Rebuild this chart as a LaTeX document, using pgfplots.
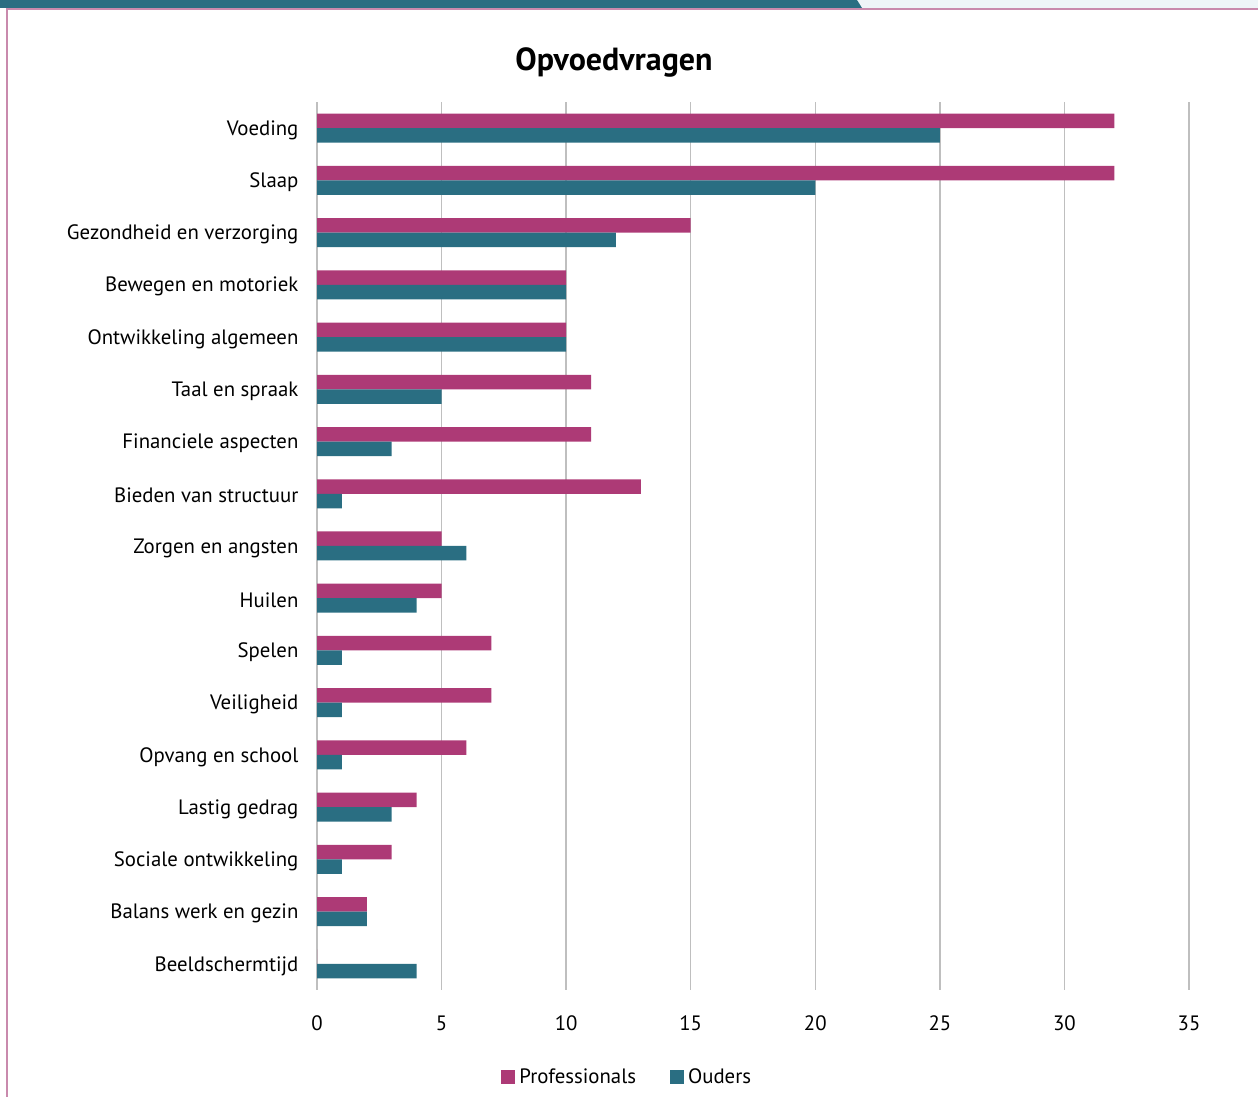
\documentclass[border=0pt]{standalone}
\usepackage{pgfplots}
\pgfplotsset{compat=1.18}
\usepackage{fontspec}
\setmainfont{PT Sans}
\definecolor{prof}{HTML}{AD3A76}
\definecolor{oud}{HTML}{2A6E82}
\definecolor{gridc}{HTML}{BFBFBF}
\definecolor{framec}{HTML}{C98AAD}
\definecolor{band}{HTML}{EEF5F8}

\begin{document}
\begin{tikzpicture}[x=0.5pt,y=0.5pt]
% page frame, 1 unit = 1 px of the reference
\path[use as bounding box] (0,0) rectangle (1258,1097);
\fill[band] (858,1089) rectangle (1258,1097);
\fill[oud] (0,1089) -- (862,1089) -- (857,1097) -- (0,1097) -- cycle;
\draw[framec, line width=1pt] (1258,1088) -- (7,1088) -- (7,0);
\node[font=\bfseries\fontsize{16}{19}\selectfont] at (614,1035) {Opvoedvragen};

\begin{axis}[
  at={(158.5pt,53.5pt)}, anchor=south west,
  scale only axis,
  width=436pt, height=444pt,
  xbar,
  bar width=7.25pt,
  xmin=0, xmax=35,
  ymin=-0.5, ymax=16.5,
  xtick={0,5,...,35},
  ytick={0,...,16},
  yticklabels={Beeldschermtijd, Balans werk en gezin, Sociale ontwikkeling,
    Lastig gedrag, Opvang en school, Veiligheid, Spelen, Huilen,
    Zorgen en angsten, Bieden van structuur, Financiele aspecten,
    Taal en spraak, Ontwikkeling algemeen, Bewegen en motoriek,
    Gezondheid en verzorging, Slaap, Voeding},
  /pgf/number format/assume math mode=true,
  axis line style={draw=none},
  tick style={draw=none},
  xmajorgrids,
  major grid style={gridc, line width=0.75pt},
  ticklabel style={font=\fontsize{10.4}{12.5}\selectfont},
  xticklabel style={yshift=-9.5pt},
  yticklabel style={xshift=-1.5pt, yshift=-1pt},
  legend columns=2,
  legend style={draw=none, font=\fontsize{10.4}{12.5}\selectfont,
    at={(0.357,-0.0985)}, anchor=center,
    /tikz/every even column/.append style={column sep=15pt}},
  legend image code/.code={\fill[#1] (0pt,-3.5pt) rectangle (7pt,3.5pt);},
]
\addplot[fill=prof, draw=none, bar shift=3.625pt] coordinates {
  (32,16) (32,15) (15,14) (10,13) (10,12) (11,11) (11,10) (13,9) (5,8)
  (5,7) (7,6) (7,5) (6,4) (4,3) (3,2) (2,1) (0,0)};
\addplot[fill=oud, draw=none, bar shift=-3.625pt] coordinates {
  (25,16) (20,15) (12,14) (10,13) (10,12) (5,11) (3,10) (1,9) (6,8)
  (4,7) (1,6) (1,5) (1,4) (3,3) (1,2) (2,1) (4,0)};
\legend{Professionals, Ouders}
\end{axis}
\end{tikzpicture}
\end{document}
